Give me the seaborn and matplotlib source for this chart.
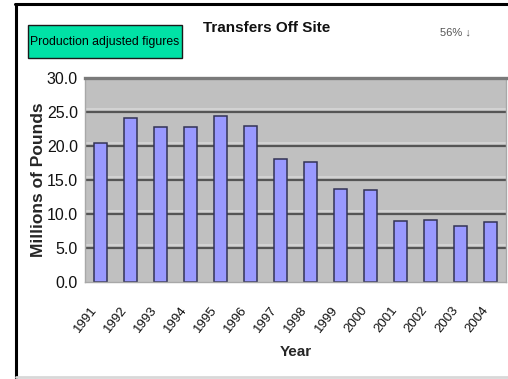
import matplotlib
matplotlib.use("Agg")
import matplotlib.pyplot as plt
from matplotlib.lines import Line2D
from matplotlib.patches import Rectangle
from matplotlib.transforms import ScaledTranslation
import seaborn as sns
import pandas as pd

years = ["1991", "1992", "1993", "1994", "1995", "1996", "1997",
         "1998", "1999", "2000", "2001", "2002", "2003", "2004"]
transfers = [20.4, 24.1, 22.7, 22.7, 24.4, 22.9, 18.0,
             17.6, 13.6, 13.5, 8.9, 9.1, 8.2, 8.8]
y_ticks = [0, 5, 10, 15, 20, 25, 30]

title = "Transfers Off Site"
note = "56% \u2193"
badge = "Production adjusted figures"
x_label = "Year"
y_label = "Millions of Pounds"

df = pd.DataFrame({"Year": years, "Transfers": transfers})

sns.set_style("white")
FONT = ["Liberation Sans", "DejaVu Sans"]
plt.rcParams["font.family"] = FONT

fig = plt.figure(figsize=(5.08, 3.79), dpi=100)
ax = fig.add_axes([85 / 508, 97 / 379, 421 / 508, 204.5 / 379])
ax.set_facecolor("#c0c0c0")

# horizontal gridlines with a light highlight just above
for v in y_ticks[1:-1]:
    ax.axhline(v + 0.38, color="#d4d4d4", lw=1.3, zorder=0.5)
    ax.axhline(v, color="#555555", lw=1.6, zorder=0.6)

sns.barplot(data=df, x="Year", y="Transfers", ax=ax, color="#9999ff",
            saturation=1, width=0.43, edgecolor="#333355", linewidth=1.1,
            zorder=2)

ax.set_ylim(0, 30)
ax.set_xlim(-0.5, len(years) - 0.5)
ax.set_yticks(y_ticks)
ax.set_yticklabels([f"{v:.1f}" for v in y_ticks], fontsize=11.5,
                   color="#111111")
ax.tick_params(axis="y", length=3, width=0.8, color="#909090", pad=2)

# category boundary ticks along the bottom
ax.set_xticks(range(len(years)))
ax.set_xticklabels(years, rotation=52, ha="right", rotation_mode="anchor",
                   fontsize=9.5, color="#111111")
ax.tick_params(axis="x", length=0, pad=16)
shift = ScaledTranslation(-10 / 100, 0, fig.dpi_scale_trans)
for lbl in ax.get_xticklabels():
    lbl.set_transform(lbl.get_transform() + shift)
ax.set_xticks([i - 0.5 for i in range(len(years) + 1)], minor=True)
ax.tick_params(axis="x", which="minor", length=3, width=0.8,
               color="#b0b0b0")

ax.set_xlabel(x_label, fontsize=11, fontweight="bold", labelpad=7)
ax.set_ylabel(y_label, fontsize=12.5, fontweight="bold", labelpad=1)

for side in ["left", "bottom", "right"]:
    ax.spines[side].set_color("#a8a8a8")
    ax.spines[side].set_linewidth(1.0)
ax.spines["top"].set_color("#7a7a7a")
ax.spines["top"].set_linewidth(2.4)

fig.text(267 / 508, 1 - 28 / 379, title, ha="center", va="center",
         fontsize=11, fontweight="bold", color="#111111")
fig.text(455 / 508, 1 - 32 / 379, note, ha="center", va="center",
         fontsize=8, color="#555555", family=FONT)

# green caption box
fig.add_artist(Rectangle((28 / 508, 1 - 58 / 379), 154 / 508, 33 / 379,
                         transform=fig.transFigure, facecolor="#00e2a6",
                         edgecolor="#1a1a1a", linewidth=1.0))
fig.text(105 / 508, 1 - 42 / 379, badge, ha="center", va="center",
         fontsize=8.8, color="#000000")

# outer frame
fig.add_artist(Line2D([15.5 / 508, 15.5 / 508], [0, 1 - 4 / 379],
                      transform=fig.transFigure, color="black", lw=2.2))
fig.add_artist(Line2D([15 / 508, 1], [1 - 4 / 379, 1 - 4 / 379],
                      transform=fig.transFigure, color="black", lw=2.2))
fig.add_artist(Line2D([16 / 508, 1], [2.5 / 379, 2.5 / 379],
                      transform=fig.transFigure, color="#d8d8d8", lw=2))

fig.savefig("out.png", dpi=100, facecolor="white")
